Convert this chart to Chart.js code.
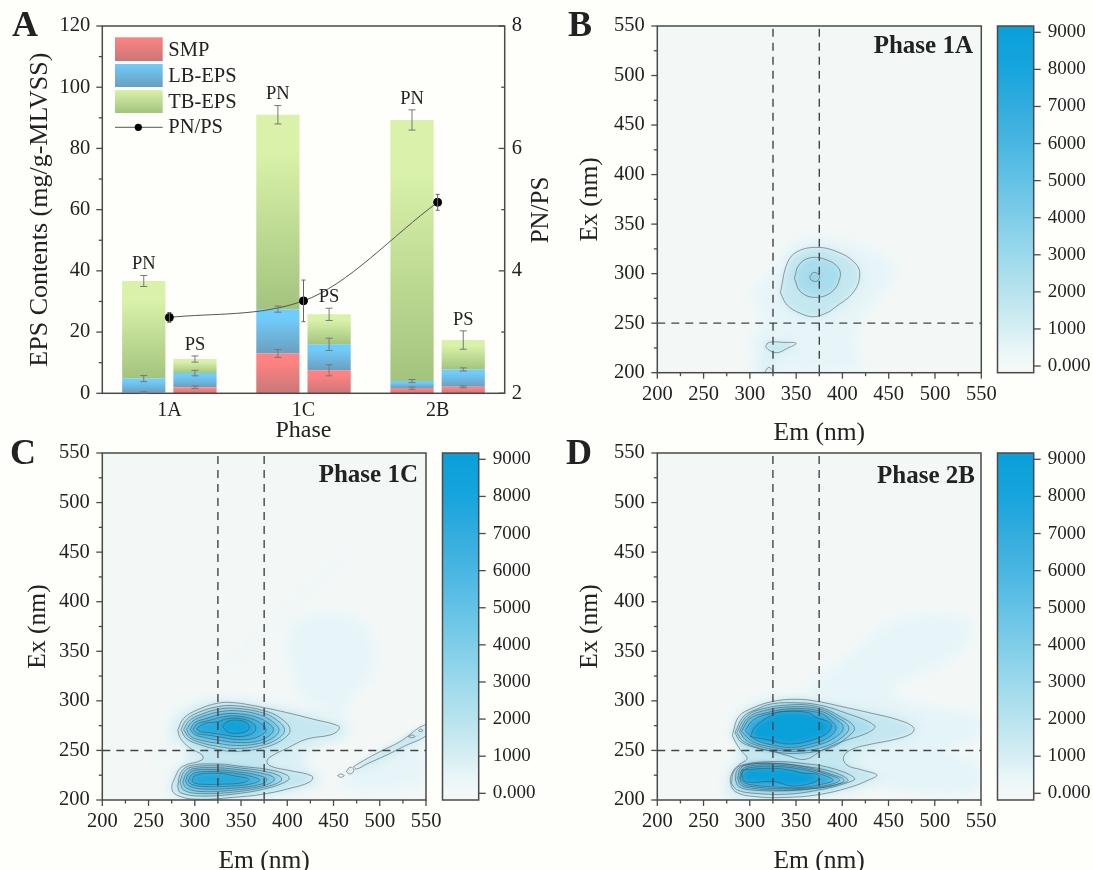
<!DOCTYPE html>
<html><head><meta charset="utf-8">
<style>html,body{margin:0;padding:0;background:#FEFEFA;width:1093px;height:870px;overflow:hidden}canvas{position:absolute}</style>
<script src="https://cdn.jsdelivr.net/npm/chart.js@4/dist/chart.umd.min.js"></script>
</head><body>
<script>
// ---------- Panel A data ----------
const categories=['1A','1C','2B'];
const smpPN=[0.3,13,1.7], lbPN=[4.5,14.5,2.3], tbPN=[31.9,63.5,85.3];
const smpPS=[2,7.5,2.1], lbPS=[4.6,8.5,5.7], tbPS=[4.6,9.8,9.6];
const smpPNerr=[0.2,1.3,0.4], lbPNerr=[1,1,0.5], tbPNerr=[1.8,3,3.3];
const smpPSerr=[0.4,1.8,0.3], lbPSerr=[0.9,2,0.5], tbPSerr=[1,2,3];
const ratio=[3.24,3.51,5.12], ratioErr=[0.08,0.34,0.13];
const legendLabels=['SMP','LB-EPS','TB-EPS','PN/PS'];
const leftTicks=[0,10,20,30,40,50,60,70,80,90,100,110,120];
const rightTicks=[2,3,4,5,6,7,8];
// ---------- EEM axes ----------
const emexTicks=[200,225,250,275,300,325,350,375,400,425,450,475,500,525,550];
const dashEm=[325,375], dashEx=250;
const cbTicks=[0,1000,2000,3000,4000,5000,6000,7000,8000,9000];
const cbLevels=[-180,0,500,1000,2000,3000,4000,5000,6000,7000,8000,9000,9170];
const cbColors=['#F3F8F6','#F3F8F7','#E7F5F8','#D5EEF3','#B8E3EE','#9BD9EC','#7FCDE9','#63C2E6','#49B6E2','#33ACDE','#16A5DD','#0CA0DA','#0AA0DA'];
// ---------- Phase 1A: [level, outline in (Em,Ex)] ----------
const halosB=[
[450,[[300.7,283.4],[315,295.2],[334.9,313.7],[340,330.6],[369,336.6],[415.8,332.2],[455.4,313.7],[460.8,300.3],[448,283.4],[430,263.3],[415.8,246.4],[415.8,219.5],[430,198],[297,198],[308,216],[297,231.3],[315,249.8],[304.3,270]]],
[800,[[330,285],[345,322],[372,332],[410,320],[430,300],[420,275],[390,255],[360,250],[330,265]]],
[800,[[312,235],[345,235],[355,225],[335,215],[320,205],[318,198],[305,198],[315,218]]]];
const contoursB=[
[1000,[[333,280.7],[340.3,310.4],[351,322.1],[372.6,326.5],[394.2,322.1],[412.2,312],[418.7,300.3],[412.2,281.8],[390.6,265],[383.4,260.6],[369,256.5],[354.7,259.9],[340.3,268.3]]],
[2000,[[348.2,295.2],[352.9,308.7],[365.4,316.1],[383.4,313.7],[396,305.3],[397.1,295.2],[388.8,281.8],[370.8,276],[354.7,281.8]]],
[3000,[[364.7,296.9],[369,301.3],[375.2,297.9],[372.6,292.5],[366.2,293.5]]],
[1000,[[316.9,226.2],[320.5,230.6],[336.7,230.6],[350,229.6],[340.3,224.6],[329.5,220.2],[320.5,222.9]]],
[1000,[[315.8,200],[320.5,205.4],[325.2,200]]]];
// ---------- Phase 1C ----------
const halosC=[
[450,[[398,350],[400,380],[440,392],[480,385],[500,355],[490,320],[470,305],[465,290],[460,270],[440,290],[415,300],[405,320]]],
[500,[[252,240],[300,292],[325,300],[300,280],[262,240]]],
[450,[[328,331],[470,454],[472,452],[331,328]]],
[450,[[450,215],[480,232],[552,262],[552,215],[520,210],[480,205]]],
[1000,[[470,228],[500,245],[552,275],[552,262],[510,240],[478,226]]],
[850,[[270,198],[274,228],[290,240],[292,250],[276,262],[270,275],[285,292],[320,304],[370,300],[430,288],[470,275],[465,262],[430,252],[410,242],[440,222],[430,212],[395,204],[340,198]]]];
const contoursC=[
[1000,[[281.6,270.6],[288,282.4],[302.5,290.8],[324,297.5],[342,298.2],[374.5,293.2],[399.6,288.1],[428.4,281.4],[455.4,274.7],[455.4,270.6],[446.4,265.6],[421,261.5],[399.6,252.1],[385,245.4],[378,239.7],[381.6,234.3],[403,229.6],[426.6,224.2],[424.8,218.5],[403,211.8],[374.5,206],[342,202.7],[306,200.7],[284.5,203.4],[275.5,210.1],[279,223.6],[286.3,233.6],[307.9,240.4],[307.9,245.4],[295.3,252.1],[284.5,262.2]]],
[2000,[[285,271],[291,281],[303,288],[324,294],[345,295],[375,290],[392,283],[403,271],[395,261],[375,253],[345,249],[325,251],[305,256],[291,262]]],
[3000,[[288,271],[294,280],[306,286],[325,291.5],[345,292.5],[373,288],[388,281],[397,271],[390,262],[372,255],[345,252],[325,254],[306,258],[294,263]]],
[4000,[[291,271],[297,279],[309,284.5],[327,289],[346,290],[370,286],[384,279],[391,271],[385,263],[369,257],[345,255],[326,257],[308,260],[296,264]]],
[5000,[[295,271],[300,278],[312,282],[329,286.5],[347,287],[367,283.5],[380,277],[385,271],[379,264],[366,259],[345,258],[328,260],[311,263],[300,266]]],
[6000,[[298,271],[303,277],[315,280],[331,284],[348,284.5],[364,281],[374,275],[377,270],[371,265],[360,261.5],[345,261],[330,263],[314,265.5],[303,267]]],
[7000,[[302,272],[310,277],[325,279],[335,282],[350,282],[362,278],[366,272],[360,266],[345,264],[330,266],[315,268],[306,269]]],
[8000,[[330,274],[336,279.5],[350,280],[358,276],[358,271],[348,267.5],[336,268.5]]],
[2000,[[281.6,213.5],[284.5,226.9],[293.5,234.3],[324.1,236.3],[352.9,233.6],[378,230.9],[399.6,225.2],[401.4,220.2],[378,211.8],[342,206],[306.1,204],[284.5,207.4]]],
[3000,[[284,218],[288,228],[296,233],[324,234.5],[352,232],[375,229],[392,224],[393,219],[375,213],[342,208],[306,206.5],[288,210]]],
[4000,[[287,218],[291,227],[298,231.5],[324,232.5],[352,230],[372,227],[385,223],[385,219],[372,214],[342,210],[308,208.5],[291,212]]],
[5000,[[290,219],[293,226],[300,230],[324,230.5],[350,228],[368,225],[378,221],[372,216],[342,212],[310,211],[294,214]]],
[6000,[[293,219],[296,225],[303,228],[324,228.5],[350,226],[364,223],[370,220],[362,216.5],[340,214],[312,213.5],[297,215.5]]],
[7000,[[297,220],[301,225],[324,227],[345,224],[358,221],[352,217.5],[330,216],[306,216],[299,217.5]]],
[1000,[[471.6,233.6],[482.4,239.7],[500.3,248.8],[522,258.9],[549,275.7],[552,266.6],[525.5,253.8],[507.5,245.4],[486,236.3],[475,231.3]]],
[1000,[[463.7,228.6],[468,233],[472.3,230.3],[468,226.2]]],
[1000,[[454.3,224.6],[458,226.2],[461.5,224.6],[458,222.9]]],
[1000,[[530.9,263.9],[534.5,265.6],[538.1,263.9],[534.5,262.9]]],
[1000,[[542,270],[544.2,271.5],[546.4,270],[544.2,269]]]];
// ---------- Phase 2B ----------
const halosD=[
[450,[[355,305],[375,325],[405,345],[440,375],[470,388],[530,388],[545,375],[530,345],[480,325],[450,310],[470,298],[552,285],[552,265],[480,250],[440,290]]],
[550,[[400,300],[480,290],[552,282],[552,262],[500,250],[552,240],[552,205],[480,205],[430,215],[440,235],[410,250],[400,275]]],
[850,[[270,212],[278,235],[290,243],[283,262],[278,272],[290,292],[325,305],[375,304],[440,292],[490,278],[480,262],[430,250],[415,240],[450,225],[430,212],[380,202],[300,198],[280,198]]]];
const contoursD=[
[1000,[[281.6,267.3],[288.1,284.1],[302.5,292.5],[324.1,299.2],[351.1,301.6],[374.5,299.2],[399.6,294.2],[432,287.4],[460.8,280.7],[477,273.3],[475.2,267.3],[457.2,261.2],[432,256.5],[410.4,251.1],[401.4,243.7],[405,235.3],[421.2,230.3],[437.4,225.2],[428.4,220.2],[410.4,213.5],[378,206],[342,202.7],[306.1,203.4],[284.5,208.4],[279.1,218.5],[281.6,228.6],[288.1,235.3],[297.1,242],[289.9,250.5],[281.6,263.9]]],
[2000,[[284,268],[293,284],[306,291],[324,297],[351,298],[374,296],[400,289],[435,275],[428,268],[400,259],[378,250],[360,241],[340,245],[325,249],[305,253],[290,259]]],
[3000,[[286,268],[295,283],[310,291],[345,296],[374,294],[398,284],[413,273],[405,263],[385,252],[350,247],[325,249],[305,254],[292,260]]],
[4000,[[289,269],[298,283],[315,290],[345,294],[375,292],[395,283],[407,273],[398,262],[378,253],[350,249],[325,251],[305,256],[295,261]]],
[5000,[[291,269],[300,282],[318,288],[345,292],[375,290],[392,282],[401,273],[392,263],[372,255],[345,251],[320,254],[303,259]]],
[6500,[[295,270],[304,281],[322,287],[348,290],[375,288],[388,280],[393,272],[385,263],[368,257],[345,253],[322,256],[306,261]]],
[9000,[[300.7,263.9],[306,274],[324,285.7],[335,289.1],[363.7,288.1],[370.9,283.4],[387,277.4],[385.2,269],[367.3,260.5],[342,256.5],[320.5,260.5]]],
[2000,[[280.2,216.8],[282.7,228.6],[291.7,235.3],[324.1,238.7],[356.5,237],[388.8,232],[413.3,221.9],[403.2,216.8],[374.5,210.1],[342,206],[306.1,206.7],[286.3,210.1]]],
[3000,[[284.5,220.2],[286.3,230.3],[295.3,235.3],[324.1,237],[356.5,234.3],[388.8,228.6],[406.1,220.2],[396,216.2],[370.9,211.8],[342,209.4],[302.5,210.1],[288.1,213.5]]],
[4000,[[287,222],[290,232],[300,236],[324,237],[356,234],[388,226],[402,220],[388,214],[360,211],[330,210],[302,212],[290,215]]],
[5000,[[289,222],[292,231],[302,234.5],[324,235.5],[356,232.5],[385,225.5],[397,220],[384,215],[360,212],[330,211.5],[303,213.5],[292,216]]],
[6500,[[290,222],[294,230.5],[304,233],[324,234],[356,231],[380,225],[390,220],[378,216],[355,212.5],[330,213],[304,215],[294,217.5]]],
[9000,[[291.7,230.3],[324.1,232],[342,230.3],[358.3,226.9],[374.5,225.2],[370.9,218.5],[345.7,214.1],[327.7,218.5],[295.3,218.5],[291.7,225.2]]]];

// ---------- helpers ----------
const SERIF='"Liberation Serif","Times New Roman",serif';
const INK='#222', AXIS='#4a4a4a';
function hex(c){return [1,3,5].map(i=>parseInt(c.substr(i,2),16));}
function colorOf(v){
  for(let i=1;i<cbLevels.length;i++){ if(v<=cbLevels[i]){
    const t=(v-cbLevels[i-1])/(cbLevels[i]-cbLevels[i-1]),a=hex(cbColors[i-1]),b=hex(cbColors[i]);
    return 'rgb('+a.map((x,k)=>Math.round(x+(b[k]-x)*t)).join(',')+')';}}
  return cbColors[cbColors.length-1];
}
function mk(left,top,w,h){const c=document.createElement('canvas');c.width=w;c.height=h;c.style.left=left+'px';c.style.top=top+'px';c.style.width=w+'px';c.style.height=h+'px';document.body.appendChild(c);return c.getContext('2d');}
function text(ctx,s,x,y,font,align,rot){ctx.save();ctx.translate(x,y);if(rot)ctx.rotate(rot);ctx.font=font;ctx.fillStyle=INK;ctx.textAlign=align||'center';ctx.textBaseline='middle';ctx.fillText(s,0,0);ctx.restore();}
function drawTickMarks(chart,inward,skip,maj,min){
  const ctx=chart.ctx;ctx.save();ctx.strokeStyle=AXIS;ctx.lineWidth=1.3;
  Object.values(chart.scales).forEach(s=>{
    if(s.options.display===false||(skip||[]).includes(s.id))return;
    s.ticks.forEach(t=>{
      const len=t.label!==''?(maj||6):(min||3.5);const p=s.getPixelForValue(t.value);ctx.beginPath();
      if(s.position==='bottom'){ctx.moveTo(p,s.top);ctx.lineTo(p,s.top+len);}
      else{const e=s.position==='left'?s.right:s.left;const d=(s.position==='left'?-1:1)*((inward||[]).includes(s.id)?-1:1);ctx.moveTo(e,p);ctx.lineTo(e+d*len,p);}
      ctx.stroke();
    });
  });
  ctx.restore();
}
function frame(chart){const a=chart.chartArea,c=chart.ctx;c.save();c.strokeStyle=AXIS;c.lineWidth=1.5;c.strokeRect(a.left,a.top,a.right-a.left,a.bottom-a.top);c.restore();}
function fixedAxes(width){return function(s){s.width=width;s.paddingTop=0;s.paddingBottom=0;};}
function fixedX(height){return function(s){s.height=height;s.paddingLeft=0;s.paddingRight=0;};}
function setTicks(list){return function(s){s.ticks=list.map(v=>({value:v}));};}

// ---------- Panel A ----------
function cum(){const arrs=[...arguments];return categories.map((_,i)=>arrs.reduce((a,r)=>a+r[i],0));}
function barDs(label,stack,vals,below,errs,c1,c2){
  return {type:'bar',label,stack,data:vals,errs,order:2,yAxisID:'y',xAxisID:'x',
    backgroundColor:function(c){
      if(c.dataIndex===undefined||!c.chart.chartArea)return c1;
      const y=c.chart.scales.y,t=y.getPixelForValue(below[c.dataIndex]+vals[c.dataIndex]),b=y.getPixelForValue(below[c.dataIndex]);
      const g=c.chart.ctx.createLinearGradient(0,t,0,b);g.addColorStop(0,c1);g.addColorStop(.2,c1);g.addColorStop(1,c2);return g;}};
}
const zero=categories.map(()=>0);
const RED=['#FF8282','#C87878'],BLUE=['#6FCCFB','#6B9FBE'],GREEN=['#D9F1A9','#A3C47D'];
const barOpts={barPercentage:.844,categoryPercentage:.7636,borderWidth:0};
const legendPlugin={id:'a',
 afterDatasetsDraw(ch){
  const c=ch.ctx,y=ch.scales.y,y2=ch.scales.y2;
  frame(ch);drawTickMarks(ch,['y2'],['x']);
  ch.data.datasets.forEach((d,i)=>{
    if(d.type==='bar'){
      ch.getDatasetMeta(i).data.forEach((el,j)=>{
        const v=y.getValueForPixel(el.y),e=d.errs[j],p1=y.getPixelForValue(v+e),p2=y.getPixelForValue(v-e);
        c.save();c.strokeStyle='#777';c.lineWidth=1;c.beginPath();c.moveTo(el.x,p1);c.lineTo(el.x,p2);
        c.moveTo(el.x-3.5,p1);c.lineTo(el.x+3.5,p1);c.moveTo(el.x-3.5,p2);c.lineTo(el.x+3.5,p2);c.stroke();c.restore();
        if(d.label==='TB-EPS')text(c,d.stack,el.x,p1-11,'18.5px '+SERIF);
      });
    }else{
      ch.getDatasetMeta(i).data.forEach((el,j)=>{
        const p1=y2.getPixelForValue(ratio[j]+ratioErr[j]),p2=y2.getPixelForValue(ratio[j]-ratioErr[j]);
        c.save();c.strokeStyle='#666';c.lineWidth=1;c.beginPath();c.moveTo(el.x,p1);c.lineTo(el.x,p2);
        c.moveTo(el.x-2,p1);c.lineTo(el.x+2,p1);c.moveTo(el.x-2,p2);c.lineTo(el.x+2,p2);c.stroke();c.restore();
      });
    }
  });
  // legend
  const sw=[[RED,37.3,61],[BLUE,64,87],[GREEN,90,113]];
  sw.forEach((s,i)=>{const g=c.createLinearGradient(0,s[1],0,s[2]);g.addColorStop(0,s[0][0]);g.addColorStop(1,s[0][1]);c.fillStyle=g;c.fillRect(115,s[1],47.7,s[2]-s[1]);
    text(c,legendLabels[i],168.3,(s[1]+s[2])/2+1,'20.5px '+SERIF,'left');});
  c.save();c.strokeStyle='#555';c.lineWidth=1;c.beginPath();c.moveTo(115,127.3);c.lineTo(162.7,127.3);c.stroke();c.fillStyle='#000';c.beginPath();c.arc(138.3,127.3,3.6,0,7);c.fill();c.restore();
  text(c,legendLabels[3],168.3,128,'20.5px '+SERIF,'left');
  text(c,'PN/PS',541,210,'25px '+SERIF,'center',-Math.PI/2);
  text(c,'A',12,27,'bold 36px '+SERIF,'left');
 }};
new Chart(mk(0,0,560,445),{
 data:{labels:categories,datasets:[
  {type:'line',label:'PN/PS',data:ratio,yAxisID:'y2',xAxisID:'x',order:0,borderColor:'#555',borderWidth:1,cubicInterpolationMode:'monotone',pointRadius:4,pointBackgroundColor:'#000',pointBorderColor:'#000'},
  Object.assign(barDs('SMP','PN',smpPN,zero,smpPNerr,...RED),barOpts),
  Object.assign(barDs('LB-EPS','PN',lbPN,smpPN,lbPNerr,...BLUE),barOpts),
  Object.assign(barDs('TB-EPS','PN',tbPN,cum(smpPN,lbPN),tbPNerr,...GREEN),barOpts),
  Object.assign(barDs('SMP','PS',smpPS,zero,smpPSerr,...RED),barOpts),
  Object.assign(barDs('LB-EPS','PS',lbPS,smpPS,lbPSerr,...BLUE),barOpts),
  Object.assign(barDs('TB-EPS','PS',tbPS,cum(smpPS,lbPS),tbPSerr,...GREEN),barOpts)
 ]},
 options:{responsive:false,animation:false,devicePixelRatio:1,
  layout:{padding:{top:26,left:0,right:0,bottom:0}},
  plugins:{legend:{display:false},tooltip:{enabled:false}},
  scales:{
   x:{stacked:true,grid:{display:false,drawTicks:false},border:{display:false},afterFit:fixedX(51.7),
      ticks:{font:{family:SERIF,size:20},color:INK,padding:5.5,maxRotation:0},
      title:{display:true,text:'Phase',font:{family:SERIF,size:24},color:INK,padding:{top:.6,bottom:0}}},
   y:{stacked:true,position:'left',min:0,max:120,grid:{display:false,drawTicks:false},border:{display:false},afterFit:fixedAxes(102.3),afterBuildTicks:setTicks(leftTicks),
      ticks:{font:{family:SERIF,size:20.5},color:INK,padding:12,autoSkip:false,callback:v=>v%20===0?String(v):''},
      title:{display:true,text:'EPS Contents (mg/g-MLVSS)',font:{family:SERIF,size:26},color:INK,padding:{top:25,bottom:0}}},
   y2:{position:'right',min:2,max:8,grid:{display:false,drawTicks:false},border:{display:false},afterFit:fixedAxes(55.3),afterBuildTicks:setTicks(rightTicks),
      ticks:{font:{family:SERIF,size:20.5},color:INK,padding:7,autoSkip:false,callback:v=>v%2===0?String(v):''}}
  }},
 plugins:[legendPlugin]});

// ---------- EEM panels ----------
function smoothPath(c,pts){
  const n=pts.length;const m=(a,b)=>[(a[0]+b[0])/2,(a[1]+b[1])/2];
  c.beginPath();let s=m(pts[n-1],pts[0]);c.moveTo(s[0],s[1]);
  for(let i=0;i<n;i++){const e=m(pts[i],pts[(i+1)%n]);c.quadraticCurveTo(pts[i][0],pts[i][1],e[0],e[1]);}
  c.closePath();
}
function eem(cv,box,halos,contours,title,titleX,titleY,letter,letterX,letterY){
  const datasets=contours.map(r=>({type:'scatter',showLine:true,tension:.4,pointRadius:0,borderColor:'rgba(70,70,70,.65)',borderWidth:.8,
      data:r[1].concat([r[1][0]]).map(p=>({x:p[0],y:p[1]}))}));
  dashEm.forEach(v=>datasets.push({type:'scatter',showLine:true,pointRadius:0,borderColor:'#444',borderWidth:1.4,borderDash:[8,6],data:[{x:v,y:200},{x:v,y:550}]}));
  datasets.push({type:'scatter',showLine:true,pointRadius:0,borderColor:'#444',borderWidth:1.4,borderDash:[8,6],data:[{x:200,y:dashEx},{x:550,y:dashEx}]});
  new Chart(cv,{data:{datasets},options:{responsive:false,animation:false,devicePixelRatio:1,
    layout:{padding:{top:box.top,left:0,right:box.right,bottom:0}},
    plugins:{legend:{display:false},tooltip:{enabled:false}},
    scales:{
     x:{type:'linear',min:200,max:550,grid:{display:false,drawTicks:false},border:{display:false},afterFit:fixedX(box.xh),afterBuildTicks:setTicks(emexTicks),
        ticks:{font:{family:SERIF,size:20.5},color:INK,padding:9.5,autoSkip:false,maxRotation:0,callback:v=>v%50===0?String(v):''},
        title:{display:true,text:'Em (nm)',font:{family:SERIF,size:25.5},color:INK,padding:{top:0,bottom:box.xt}}},
     y:{type:'linear',min:200,max:550,grid:{display:false,drawTicks:false},border:{display:false},afterFit:fixedAxes(box.yw),afterBuildTicks:setTicks(emexTicks),
        ticks:{font:{family:SERIF,size:20.5},color:INK,padding:12.5,autoSkip:false,callback:v=>v%50===0?String(v):''},
        title:{display:true,text:'Ex (nm)',font:{family:SERIF,size:25.5},color:INK,padding:{top:box.yt,bottom:0}}}
    }},
    plugins:[{id:'eem',
     beforeDatasetsDraw(ch){
       const c=ch.ctx,a=ch.chartArea,X=ch.scales.x,Y=ch.scales.y;
       c.save();c.beginPath();c.rect(a.left,a.top,a.right-a.left,a.bottom-a.top);c.clip();
       c.fillStyle=colorOf(0);c.fillRect(a.left,a.top,a.right-a.left,a.bottom-a.top);
       c.filter='blur(5px)';
       halos.forEach(h=>{smoothPath(c,h[1].map(p=>[X.getPixelForValue(p[0]),Y.getPixelForValue(p[1])]));c.fillStyle=colorOf(h[0]);c.fill();});
       c.filter='blur(2.5px)';
       contours.forEach(h=>{smoothPath(c,h[1].map(p=>[X.getPixelForValue(p[0]),Y.getPixelForValue(p[1])]));c.fillStyle=colorOf(h[0]+600);c.fill();});
       c.restore();
     },
     afterDatasetsDraw(ch){
       frame(ch);drawTickMarks(ch);
       text(ch.ctx,title,titleX,titleY,'bold 25px '+SERIF,'right');
       text(ch.ctx,letter,letterX,letterY,'bold 36px '+SERIF,'left');
     }}]});
}
function colorbar(cv,top,bottom){
  new Chart(cv,{type:'bar',data:{labels:['z'],datasets:[{data:[[cbLevels[0],cbLevels[cbLevels.length-1]]],barPercentage:1,categoryPercentage:1,borderWidth:0,
      backgroundColor:function(c){
        if(!c.chart.chartArea)return cbColors[0];
        const y=c.chart.scales.y,t=y.getPixelForValue(9170),b=y.getPixelForValue(-180),g=c.chart.ctx.createLinearGradient(0,t,0,b);
        cbLevels.forEach((v,i)=>g.addColorStop((t-y.getPixelForValue(v))/(t-b),cbColors[i]));return g;}}]},
   options:{responsive:false,animation:false,devicePixelRatio:1,
    layout:{padding:{top,left:7.5,right:0,bottom}},
    plugins:{legend:{display:false},tooltip:{enabled:false}},
    scales:{x:{display:false},
     y:{position:'right',min:cbLevels[0],max:cbLevels[cbLevels.length-1],grid:{display:false,drawTicks:false},border:{display:false},afterFit:fixedAxes(59.3),afterBuildTicks:setTicks(cbTicks),
        ticks:{font:{family:SERIF,size:19},color:INK,padding:14,autoSkip:false,callback:v=>v===0?'0.000':String(v)}}}},
   plugins:[{id:'cb',afterDatasetsDraw(ch){frame(ch);drawTickMarks(ch,[],['x'],7);}}]});
}
eem(mk(555,0,460,450),{top:26,right:33.7,xh:77.3,xt:1,yw:102.3,yt:19.7},halosB,contoursB,'Phase 1A',418,47,'B',13,27);
colorbar(mk(990,0,103,445),26,72.3);
eem(mk(0,430,460,450),{top:23,right:34,xh:80,xt:3,yw:102.3,yt:22.7},halosC,contoursC,'Phase 1C',418,46,'C',10,25);
colorbar(mk(435,430,103,450),23,80);
eem(mk(555,430,460,450),{top:23,right:34,xh:80,xt:3,yw:102.3,yt:19.7},halosD,contoursD,'Phase 2B',420,47,'D',11,25);
colorbar(mk(990,430,103,450),23,80);
</script>
</body></html>
